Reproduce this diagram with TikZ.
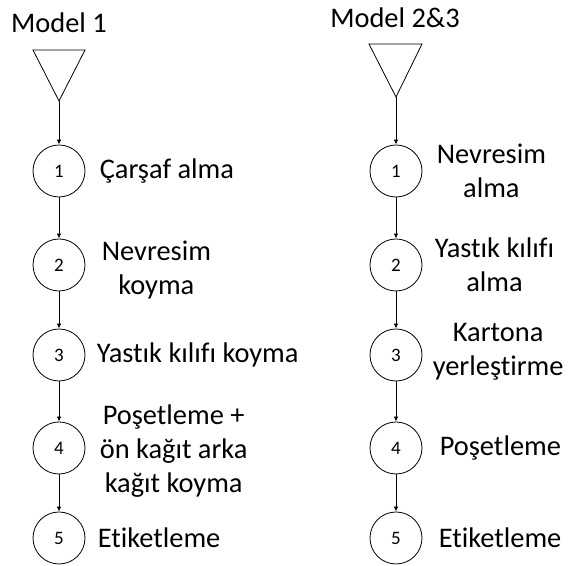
\documentclass[tikz,border=0pt]{standalone}
\usepackage{fontspec}
\setmainfont{Carlito}[Ligatures=NoCommon]
\usetikzlibrary{arrows.meta,positioning}

\tikzset{
  stepnode/.style={draw, circle, thin, minimum size=26pt, inner sep=0pt,
    font=\fontsize{9.5}{11}\selectfont},
  steplabel/.style={align=center, inner sep=0pt},
  flow/.style={thin, -{Latex[length=2.5pt,width=2.2pt]}}
}

\begin{document}
\begin{tikzpicture}[x=0.5pt, y=-0.5pt, font=\fontsize{14.2}{17}\selectfont]

        \useasboundingbox (0,0) rectangle (569,566);

        % Model 1
        \node (m1) at (59,23) {Model 1};
        \draw [thin] (33,50) -- (85,50) -- (59,101) -- cycle;
        \coordinate (t1) at (59,101);

        \node [stepnode] (a1) at (59,171) {1};
        \node [stepnode] (a2) at (59,265) {2};
        \node [stepnode] (a3) at (59,355) {3};
        \node [stepnode] (a4) at (59,448) {4};
        \node [stepnode] (a5) at (59,538) {5};

        \node [steplabel, right=7pt of a1] {Çarşaf alma};
        \node [steplabel, right=8pt of a2, yshift=-2.5pt] {Nevresim\\koyma};
        \node [steplabel, right=5.5pt of a3] {Yastık kılıfı koyma};
        \node [steplabel, right=7pt of a4, yshift=-1.5pt] {Poşetleme +\\ön kağıt arka\\kağıt koyma};
        \node [steplabel, right=6pt of a5] {Etiketleme};

        \draw [flow] (t1) -- (a1);
        \draw [flow] (a1) -- (a2);
        \draw [flow] (a2) -- (a3);
        \draw [flow] (a3) -- (a4);
        \draw [flow] (a4) -- (a5);

        % Model 2&3
        \node (m2) at (395,18) {Model 2\&3};
        \draw [thin] (369,44) -- (422,44) -- (396,97) -- cycle;
        \coordinate (t2) at (396,97);

        \node [stepnode] (b1) at (396,171) {1};
        \node [stepnode] (b2) at (396,265) {2};
        \node [stepnode] (b3) at (396,355) {3};
        \node [stepnode] (b4) at (396,448) {4};
        \node [stepnode] (b5) at (396,538) {5};

        \node [steplabel, right=7pt of b1] {Nevresim\\alma};
        \node [steplabel, right=6pt of b2] {Yastık kılıfı\\alma};
        \node [steplabel, right=5pt of b3, yshift=1.5pt] {Kartona\\yerleştirme};
        \node [steplabel, right=8.5pt of b4] {Poşetleme};
        \node [steplabel, right=8pt of b5] {Etiketleme};

        \draw [flow] (t2) -- (b1);
        \draw [flow] (b1) -- (b2);
        \draw [flow] (b2) -- (b3);
        \draw [flow] (b3) -- (b4);
        \draw [flow] (b4) -- (b5);

\end{tikzpicture}
\end{document}
